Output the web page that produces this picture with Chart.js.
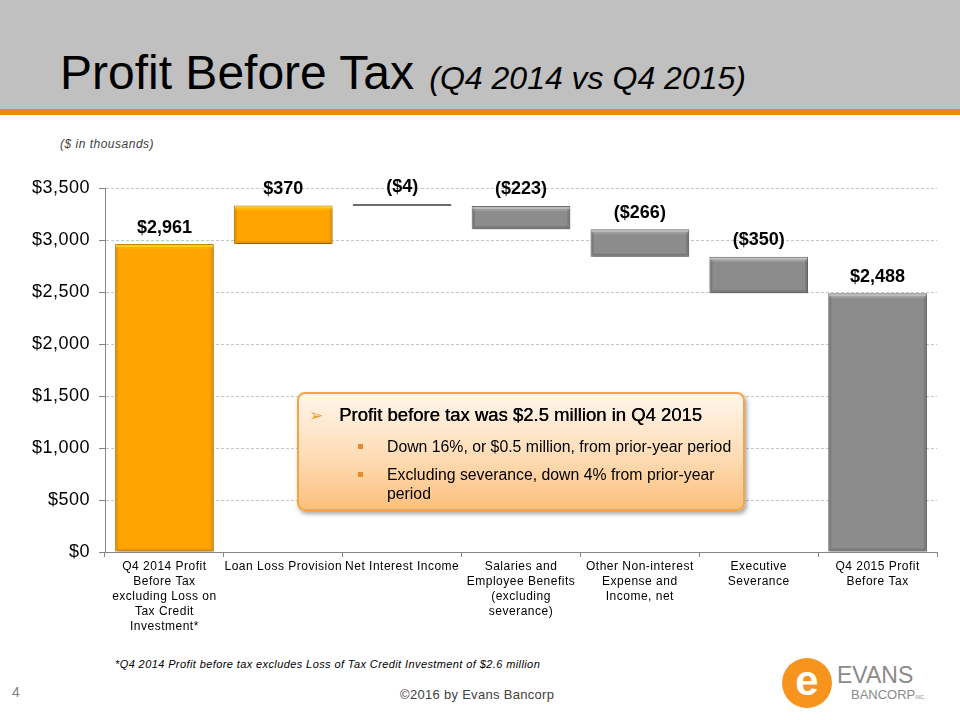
<!DOCTYPE html>
<html>
<head>
<meta charset="utf-8">
<script src="https://cdn.jsdelivr.net/npm/chart.js@4.4.1/dist/chart.umd.min.js"></script>
<style>
html, body { margin: 0; padding: 0; width: 960px; height: 720px; overflow: hidden; background: #fff;
  font-family: "Liberation Sans", Arial, sans-serif; }
#head { position: absolute; left: 0; top: 0; width: 960px; height: 109px; background: #c0c0c0; }
#stripe { position: absolute; left: 0; top: 109px; width: 960px; height: 6px; background: #ef8713; }
#title { position: absolute; left: 60px; top: 49px; font-size: 48px; line-height: 48px; color: #000; white-space: nowrap; }
#title i { font-size: 32px; margin-left: 2px; }
#units { position: absolute; left: 60px; top: 138px; font-size: 12px; line-height: 13px; font-style: italic; color: #404040; letter-spacing: 0.5px; }
#wrap { position: absolute; left: 0; top: 160px; width: 960px; height: 490px; }
#note { position: absolute; left: 297px; top: 392px; width: 448px; height: 119px; box-sizing: border-box;
  border: 2px solid #f5a347; border-radius: 8px;
  background: linear-gradient(to bottom, #fff6ec 0%, #fedcb4 55%, #fbc07d 100%);
  box-shadow: 2px 3px 4px rgba(0,0,0,0.35); }
#note div { position: absolute; white-space: nowrap; color: #000; }
#note .h { left: 40px; top: 11px; font-size: 18.5px; line-height: 20px; text-shadow: 0.4px 0 0 #000; }
#note .h .arr { position: absolute; left: -30px; top: 0; color: #f09a30; font-family: "DejaVu Sans"; font-size: 17px; text-shadow: none; }
#note .s { left: 88px; font-size: 15.8px; line-height: 19px; }
#note .s .sq { position: absolute; left: -29px; top: 7px; width: 5px; height: 5px; background: #e8892a; }
#foot { position: absolute; left: 115px; top: 658px; font-size: 11px; line-height: 12px; font-style: italic; color: #000; letter-spacing: 0.4px; }
#page { position: absolute; left: 12px; top: 684px; font-size: 14px; line-height: 16px; color: #808080; }
#copy { position: absolute; left: 400px; top: 688px; font-size: 13px; line-height: 14px; color: #404040; letter-spacing: 0.3px; }
#disc { position: absolute; left: 782px; top: 658px; width: 50px; height: 50px; border-radius: 50%; background: #f7941d;
  color: #fff; font-weight: bold; font-size: 42px; line-height: 46px; text-align: center; }
#evans { position: absolute; left: 837px; top: 664px; font-size: 23px; line-height: 23px; color: #8a8a8a; }
#bancorp { position: absolute; left: 851px; top: 688px; font-size: 13px; line-height: 13px; color: #8a8a8a; }
#bancorp small { font-size: 5px; }
</style>
</head>
<body>
<div id="head"></div>
<div id="stripe"></div>
<div id="title">Profit Before Tax <i>(Q4 2014 vs Q4 2015)</i></div>
<div id="units">($ in thousands)</div>
<div id="wrap"><canvas id="grafico" width="960" height="490"></canvas></div>
<div id="note">
  <div class="h"><span class="arr">➢</span>Profit before tax was $2.5 million in Q4 2015</div>
  <div class="s" style="top:42.5px"><span class="sq"></span>Down 16%, or $0.5 million, from prior-year period</div>
  <div class="s" style="top:70.5px"><span class="sq"></span>Excluding severance, down 4% from prior-year<br>period</div>
</div>
<div id="foot">*Q4 2014 Profit before tax excludes Loss of Tax Credit Investment of $2.6 million</div>
<div id="page">4</div>
<div id="copy">©2016 by Evans Bancorp</div>
<div id="disc">e</div>
<div id="evans">EVANS</div>
<div id="bancorp">BANCORP<small>INC.</small></div>

<script>
// categorias (rótulos em várias linhas)
const categorias = [
    ['Q4 2014 Profit', 'Before Tax', 'excluding Loss on', 'Tax Credit', 'Investment*'],
    ['Loan Loss Provision'],
    ['Net Interest Income'],
    ['Salaries and', 'Employee Benefits', '(excluding', 'severance)'],
    ['Other Non-interest', 'Expense and', 'Income, net'],
    ['Executive', 'Severance'],
    ['Q4 2015 Profit', 'Before Tax']
];
// valores em milhares de dólares
const valores = [2961, 370, -4, -223, -266, -350, 2488];
// 'inicio', 'variacao' ou 'final'
const tipos = ['inicio', 'variacao', 'variacao', 'variacao', 'variacao', 'variacao', 'final'];
const ticksY = [0, 500, 1000, 1500, 2000, 2500, 3000, 3500];

const FONTE = '"Liberation Sans", Arial, sans-serif';

function montarCascata() {
    let acumulado = 0;
    return valores.map((v, i) => {
        if (tipos[i] === 'variacao') {
            const ini = acumulado;
            acumulado += v;
            return [ini, acumulado];
        }
        acumulado = v;
        return [0, v];
    });
}

function ehLaranja(i) {
    return tipos[i] === 'inicio' || (tipos[i] === 'variacao' && valores[i] > 0);
}

function rotulo(v) {
    const s = '$' + Math.abs(v).toLocaleString('en-US');
    return v < 0 ? '(' + s + ')' : s;
}

// espaçamento entre letras dos eixos (o contexto é reiniciado quando o canvas muda de tamanho)
const espacamento = {
    id: 'espacamento',
    beforeUpdate(chart) { chart.ctx.letterSpacing = '0.5px'; },
    beforeLayout(chart) { chart.ctx.letterSpacing = '0.5px'; },
    beforeDraw(chart) { chart.ctx.letterSpacing = '0.5px'; }
};

const sombra = {
    id: 'sombra',
    beforeDatasetsDraw(chart) {
        const ctx = chart.ctx;
        ctx.save();
        ctx.shadowColor = 'rgba(0,0,0,0.35)';
        ctx.shadowBlur = 3;
        ctx.shadowOffsetX = 1;
        ctx.shadowOffsetY = 2;
    },
    afterDatasetsDraw(chart) {
        chart.ctx.restore();
    }
};

const relevo = {
    id: 'relevo',
    afterDatasetsDraw(chart) {
        const ctx = chart.ctx;
        chart.getDatasetMeta(0).data.forEach((el, i) => {
            const topo = Math.min(el.y, el.base);
            const base = Math.max(el.y, el.base);
            if (base - topo < 6) return;
            const x0 = el.x - el.width / 2, x1 = el.x + el.width / 2;
            const laranja = ehLaranja(i);
            ctx.save();
            ctx.fillStyle = laranja ? 'rgba(255,220,40,0.75)' : 'rgba(210,210,210,0.7)';
            ctx.fillRect(x0 + 1, topo + 1, el.width - 2, 2);
            ctx.fillStyle = laranja ? 'rgba(255,200,0,0.35)' : 'rgba(190,190,190,0.35)';
            ctx.fillRect(x0 + 1, topo + 3, el.width - 2, 2);
            ctx.fillStyle = laranja ? 'rgba(200,120,0,0.35)' : 'rgba(80,80,80,0.3)';
            ctx.fillRect(x0 + 1, base - 3, el.width - 2, 2);
            ctx.fillRect(x0 + 1, topo + 3, 2, base - topo - 6);
            ctx.fillRect(x1 - 3, topo + 3, 2, base - topo - 6);
            ctx.restore();
        });
    }
};

const rotulos = {
    id: 'rotulos',
    afterDatasetsDraw(chart) {
        const ctx = chart.ctx;
        ctx.save();
        ctx.letterSpacing = '0px';
        ctx.font = 'bold 18px ' + FONTE;
        ctx.fillStyle = '#000';
        ctx.textAlign = 'center';
        ctx.textBaseline = 'middle';
        chart.getDatasetMeta(0).data.forEach((el, i) => {
            const topo = Math.min(el.y, el.base);
            ctx.fillText(rotulo(valores[i]), el.x, topo - 16.5);
        });
        ctx.restore();
    }
};

function plotar() {
    const ctx = document.getElementById('grafico').getContext('2d');
    const dados = montarCascata();

    window.graficoCascata = new Chart(ctx, {
        type: 'bar',
        data: {
            labels: categorias,
            datasets: [{
                data: dados,
                backgroundColor: valores.map((v, i) => ehLaranja(i) ? '#ffa401' : '#8c8c8c'),
                borderColor: valores.map((v, i) => ehLaranja(i) ? '#c98400' : '#6c6c6c'),
                borderWidth: 1,
                borderSkipped: false,
                minBarLength: 2,
                barPercentage: 0.83,
                categoryPercentage: 1
            }]
        },
        options: {
            animation: false,
            responsive: false,
            maintainAspectRatio: false,
            layout: { padding: { top: 28, right: 23, left: 0, bottom: 0 } },
            plugins: {
                legend: { display: false },
                tooltip: { enabled: false }
            },
            scales: {
                x: {
                    grid: {
                        display: true,
                        drawOnChartArea: false,
                        drawTicks: true,
                        tickLength: 5,
                        color: '#868686',
                        offset: true
                    },
                    border: { display: true, color: '#868686', width: 1 },
                    ticks: {
                        color: '#000',
                        font: { family: FONTE, size: 12, lineHeight: 1.25 },
                        padding: 2,
                        maxRotation: 0,
                        minRotation: 0,
                        autoSkip: false
                    },
                    afterFit(escala) { escala.height = 98; }
                },
                y: {
                    min: 0,
                    max: 3500,
                    afterBuildTicks(escala) {
                        escala.ticks = ticksY.map(v => ({ value: v }));
                    },
                    ticks: {
                        color: '#000',
                        font: { family: FONTE, size: 18 },
                        padding: 9,
                        callback: v => '$' + v.toLocaleString('en-US')
                    },
                    grid: {
                        color: '#c4c4c4',
                        tickColor: '#868686',
                        tickLength: 6,
                        tickBorderDash: []
                    },
                    border: { display: true, color: '#868686', width: 1, dash: [3, 2] },
                    afterFit(escala) { escala.width = 105; }
                }
            }
        },
        plugins: [espacamento, sombra, relevo, rotulos]
    });
}

function main() {
    plotar();
}

window.addEventListener('DOMContentLoaded', main);
</script>
</body>
</html>
